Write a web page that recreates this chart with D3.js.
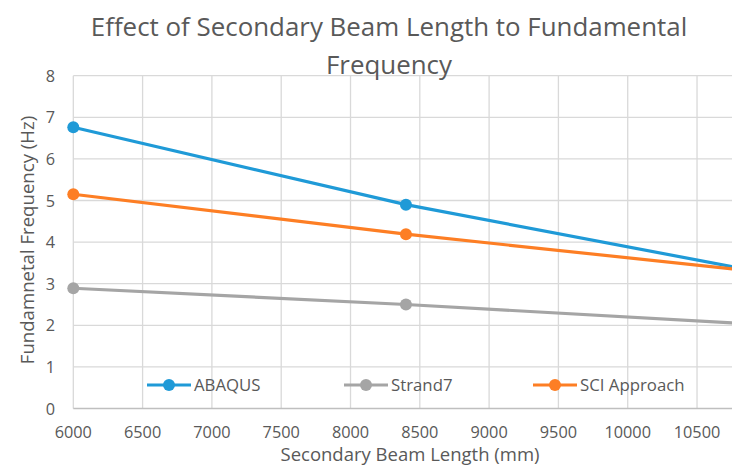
<!DOCTYPE html>
<html>
<head>
  <style>
    body { margin: 0; background: #fff; }
    text { font-family: "Open Sans", sans-serif; fill: #595959; }
  </style>
  <script src="https://d3js.org/d3.v7.min.js"></script>
</head>
<body>
  <svg id="chart" width="732" height="469"></svg>
  <script>
    // data
    const lengths = [6000, 8400, 10800];
    const abaqus = [6.76, 4.90, 3.38];
    const strand7 = [2.89, 2.50, 2.05];
    const sciApproach = [5.15, 4.19, 3.34];
    const xTicks = [6000, 6500, 7000, 7500, 8000, 8500, 9000, 9500, 10000, 10500];
    const yTicks = [0, 1, 2, 3, 4, 5, 6, 7, 8];

    const series = [
      { name: "ABAQUS", values: abaqus, color: "#1f9ad7" },
      { name: "Strand7", values: strand7, color: "#a5a5a5" },
      { name: "SCI Approach", values: sciApproach, color: "#fd7e24" }
    ];

    const svg = d3.select("#chart");
    const plotLeft = 73.3, plotRight = 738.6, plotTop = 75.7, plotBottom = 408.5;

    const x = d3.scaleLinear().domain([6000, 10800]).range([plotLeft, plotRight]);
    const y = d3.scaleLinear().domain([0, 8]).range([plotBottom, plotTop]);

    // gridlines
    svg.append("g").selectAll("line")
      .data(yTicks.filter(d => d > 0))
      .join("line")
      .attr("x1", plotLeft).attr("x2", 732)
      .attr("y1", d => y(d)).attr("y2", d => y(d))
      .attr("stroke", "#d9d9d9").attr("stroke-width", 1.3);

    svg.append("g").selectAll("line")
      .data(xTicks)
      .join("line")
      .attr("x1", d => x(d)).attr("x2", d => x(d))
      .attr("y1", plotTop).attr("y2", plotBottom)
      .attr("stroke", "#d9d9d9").attr("stroke-width", 1.3);

    // baseline
    svg.append("line")
      .attr("x1", plotLeft).attr("x2", 732)
      .attr("y1", y(0)).attr("y2", y(0))
      .attr("stroke", "#bfbfbf").attr("stroke-width", 1.5);

    // tick labels
    svg.append("g").selectAll("text")
      .data(yTicks)
      .join("text")
      .attr("x", 55).attr("y", d => y(d) + 6)
      .attr("text-anchor", "end")
      .style("font-size", "16.3px")
      .text(d => d);

    svg.append("g").selectAll("text")
      .data(xTicks)
      .join("text")
      .attr("x", d => x(d)).attr("y", 438)
      .attr("text-anchor", "middle")
      .style("font-size", "16.3px")
      .text(d => d);

    // lines + markers
    const line = d3.line().x(d => x(d[0])).y(d => y(d[1]));
    series.forEach(s => {
      const pts = lengths.map((l, i) => [l, s.values[i]]);
      svg.append("path")
        .attr("d", line(pts))
        .attr("fill", "none")
        .attr("stroke", s.color)
        .attr("stroke-width", 3.2);
      svg.append("g").selectAll("circle")
        .data(pts)
        .join("circle")
        .attr("cx", d => x(d[0])).attr("cy", d => y(d[1]))
        .attr("r", 6)
        .attr("fill", s.color);
    });

    // legend
    const legendX = [147, 344, 533];
    const lg = svg.append("g").selectAll("g")
      .data(series)
      .join("g")
      .attr("transform", (d, i) => "translate(" + legendX[i] + ",385)");
    lg.append("line")
      .attr("x1", 0).attr("x2", 44)
      .attr("stroke", d => d.color).attr("stroke-width", 3.2);
    lg.append("circle").attr("cx", 22).attr("r", 6).attr("fill", d => d.color);
    lg.append("text")
      .attr("x", 47).attr("y", 6)
      .style("font-size", "16.8px")
      .text(d => d.name);

    // titles
    svg.append("text")
      .attr("x", 389).attr("y", 36)
      .attr("text-anchor", "middle")
      .style("font-size", "25.9px")
      .text("Effect of Secondary Beam Length to Fundamental");
    svg.append("text")
      .attr("x", 389).attr("y", 74)
      .attr("text-anchor", "middle")
      .style("font-size", "25.9px")
      .text("Frequency");

    svg.append("text")
      .attr("transform", "translate(34,240) rotate(-90)")
      .attr("text-anchor", "middle")
      .style("font-size", "18.6px")
      .text("Fundamnetal Frequency (Hz)");

    svg.append("text")
      .attr("x", 410).attr("y", 461)
      .attr("text-anchor", "middle")
      .style("font-size", "18.5px")
      .text("Secondary Beam Length (mm)");
  </script>
</body>
</html>
